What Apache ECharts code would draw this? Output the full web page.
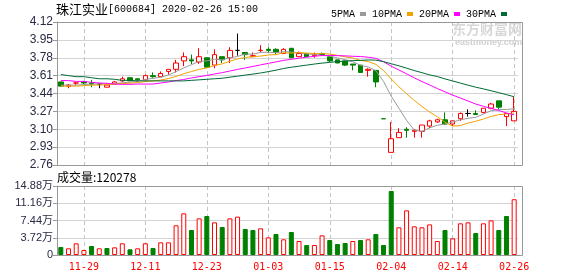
<!DOCTYPE html>
<html>
<head>
<meta charset="utf-8">
<script src="https://cdn.jsdelivr.net/npm/echarts@6/dist/echarts.min.js"></script>
<style>
  html, body { margin: 0; padding: 0; background: #fff; }
  #main { width: 578px; height: 276px; }
</style>
</head>
<body>
<div id="main"></div>
<script>
// 珠江实业 600684, daily K line 2019-11-26 .. 2020-02-26
var dates = ['11-26', '11-27', '11-28', '11-29', '12-02', '12-03', '12-04', '12-05', '12-06', '12-09',
  '12-10', '12-11', '12-12', '12-13', '12-16', '12-17', '12-18', '12-19', '12-20', '12-23',
  '12-24', '12-25', '12-26', '12-27', '12-30', '12-31', '01-02', '01-03', '01-06', '01-07',
  '01-08', '01-09', '01-10', '01-13', '01-14', '01-15', '01-16', '01-17', '01-20', '01-21',
  '01-22', '01-23', '02-03', '02-04', '02-05', '02-06', '02-07', '02-10', '02-11', '02-12',
  '02-13', '02-14', '02-17', '02-18', '02-19', '02-20', '02-21', '02-24', '02-25', '02-26']

var openPrices = [3.55, 3.51, 3.54, 3.55, 3.54, 3.53, 3.50, 3.53, 3.56, 3.59,
  3.58, 3.57, 3.61, 3.60, 3.65, 3.67, 3.75, 3.76, 3.74, 3.78,
  3.71, 3.79, 3.78, 3.85, 3.83, 3.79, 3.85, 3.86, 3.86, 3.82,
  3.87, 3.79, 3.82, 3.80, 3.82, 3.79, 3.76, 3.75, 3.72, 3.71,
  3.66, 3.66, 3.20, 2.88, 3.02, 3.10, 3.08, 3.08, 3.13, 3.17,
  3.19, 3.15, 3.20, 3.25, 3.25, 3.26, 3.30, 3.37, 3.22, 3.18]
var closePrices = [3.51, 3.52, 3.54, 3.54, 3.53, 3.53, 3.52, 3.55, 3.58, 3.56,
  3.57, 3.61, 3.60, 3.63, 3.67, 3.73, 3.79, 3.75, 3.79, 3.69,
  3.81, 3.76, 3.85, 3.85, 3.81, 3.80, 3.85, 3.85, 3.83, 3.86,
  3.78, 3.82, 3.79, 3.81, 3.81, 3.75, 3.73, 3.71, 3.71, 3.64,
  3.67, 3.55, 3.20, 3.01, 3.07, 3.09, 3.09, 3.14, 3.18, 3.19,
  3.15, 3.18, 3.25, 3.25, 3.24, 3.30, 3.34, 3.31, 3.25, 3.27]
var lowPrices = [3.51, 3.49, 3.52, 3.53, 3.50, 3.49, 3.50, 3.53, 3.55, 3.56,
  3.55, 3.57, 3.59, 3.60, 3.62, 3.64, 3.70, 3.72, 3.72, 3.69,
  3.68, 3.73, 3.73, 3.80, 3.76, 3.79, 3.83, 3.83, 3.81, 3.82,
  3.78, 3.79, 3.79, 3.78, 3.80, 3.74, 3.73, 3.70, 3.66, 3.64,
  3.60, 3.50, 3.20, 2.88, 3.02, 3.02, 3.02, 3.02, 3.11, 3.16,
  3.14, 3.13, 3.18, 3.22, 3.24, 3.25, 3.29, 3.29, 3.13, 3.18]
var highPrices = [3.55, 3.53, 3.55, 3.56, 3.57, 3.53, 3.53, 3.56, 3.60, 3.59,
  3.58, 3.62, 3.64, 3.65, 3.67, 3.76, 3.83, 3.81, 3.87, 3.78,
  3.86, 3.79, 3.88, 4.01, 3.83, 3.83, 3.90, 3.88, 3.87, 3.87,
  3.87, 3.84, 3.82, 3.83, 3.83, 3.79, 3.76, 3.75, 3.72, 3.71,
  3.68, 3.66, 3.20, 3.17, 3.11, 3.12, 3.10, 3.14, 3.19, 3.20,
  3.26, 3.18, 3.26, 3.29, 3.28, 3.30, 3.35, 3.37, 3.25, 3.41]

// volume in lots (手)
var volumes = [17300, 14400, 25200, 10800, 19400, 14400, 15100, 16500, 25200, 12200,
  14400, 25200, 15100, 27300, 27300, 64000, 89800, 53900, 79000, 84100,
  70400, 60400, 79000, 82700, 56100, 53900, 57500, 38100, 45300, 33800,
  49600, 30200, 21600, 21600, 42400, 32300, 23700, 25900, 30200, 32300,
  33800, 45300, 21600, 138000, 59700, 96300, 61800, 59700, 66000, 30200,
  53900, 35900, 68300, 70400, 47400, 68300, 74700, 53900, 84100, 120278]

var ma5 = [3.52, 3.52, 3.52, 3.525, 3.528, 3.532, 3.532, 3.534, 3.542, 3.548,
  3.556, 3.574, 3.584, 3.594, 3.616, 3.648, 3.684, 3.714, 3.746, 3.75,
  3.766, 3.76, 3.78, 3.792, 3.816, 3.814, 3.832, 3.832, 3.828, 3.838,
  3.834, 3.828, 3.816, 3.812, 3.802, 3.796, 3.778, 3.762, 3.742, 3.708,
  3.692, 3.656, 3.554, 3.414, 3.30, 3.184, 3.092, 3.08, 3.114, 3.138,
  3.15, 3.168, 3.19, 3.204, 3.214, 3.244, 3.276, 3.288, 3.288, 3.294]
var ma10 = [3.51, 3.51, 3.51, 3.515, 3.52, 3.52, 3.525, 3.53, 3.535, 3.538,
  3.544, 3.553, 3.559, 3.568, 3.582, 3.602, 3.629, 3.649, 3.67, 3.683,
  3.707, 3.722, 3.747, 3.769, 3.783, 3.79, 3.796, 3.806, 3.81, 3.827,
  3.824, 3.83, 3.824, 3.82, 3.82, 3.815, 3.803, 3.789, 3.777, 3.755,
  3.744, 3.717, 3.658, 3.578, 3.504, 3.438, 3.374, 3.317, 3.264, 3.219,
  3.167, 3.13, 3.135, 3.159, 3.176, 3.197, 3.222, 3.239, 3.246, 3.254]
var ma20 = [3.563, 3.563, 3.555, 3.555, 3.546, 3.54, 3.537, 3.53, 3.527, 3.527,
  3.53, 3.53, 3.53, 3.54, 3.55, 3.563, 3.573, 3.588, 3.60, 3.611,
  3.626, 3.638, 3.654, 3.669, 3.683, 3.697, 3.712, 3.727, 3.74, 3.755,
  3.765, 3.776, 3.785, 3.794, 3.801, 3.802, 3.80, 3.798, 3.794, 3.792,
  3.785, 3.774, 3.742, 3.70, 3.663, 3.627, 3.589, 3.553, 3.521, 3.487,
  3.456, 3.424, 3.397, 3.369, 3.34, 3.318, 3.298, 3.278, 3.255, 3.237]
var ma30 = [3.62, 3.61, 3.60, 3.60, 3.59, 3.58, 3.58, 3.575, 3.565, 3.565,
  3.56, 3.56, 3.56, 3.56, 3.56, 3.56, 3.56, 3.565, 3.57, 3.575,
  3.58, 3.585, 3.595, 3.605, 3.615, 3.625, 3.635, 3.648, 3.662, 3.678,
  3.69, 3.70, 3.71, 3.72, 3.729, 3.736, 3.743, 3.748, 3.753, 3.755,
  3.759, 3.757, 3.743, 3.723, 3.703, 3.681, 3.658, 3.638, 3.617, 3.601,
  3.579, 3.559, 3.539, 3.519, 3.50, 3.484, 3.466, 3.448, 3.429, 3.409]

var priceTicks = [2.76, 2.93, 3.10, 3.27, 3.44, 3.61, 3.78, 3.95, 4.12]
var volumeTicks = [0, 37200, 74400, 111600, 148800]

var RED = '#ff0000'
var GREEN = '#008000'
var BLACK = '#000000'

// every 8th trading day gets a date label and a dashed line
function showDate(index) {
  return index % 8 === 3
}

var candleData = dates.map(function (d, i) {
  var item = { value: [openPrices[i], closePrices[i], lowPrices[i], highPrices[i]] }
  // flat day, same as previous close: drawn black
  if (i > 0 && openPrices[i] === closePrices[i] && closePrices[i] === closePrices[i - 1]) {
    item.itemStyle = { color: BLACK, color0: BLACK, borderColor: BLACK, borderColor0: BLACK }
  }
  return item
})

// volume colour follows close vs previous close
var volumeData = volumes.map(function (v, i) {
  var down = i === 0 ? closePrices[0] < openPrices[0] : closePrices[i] < closePrices[i - 1]
  return {
    value: v,
    itemStyle: down ? { color: GREEN, borderColor: GREEN } : { color: '#fff', borderColor: RED }
  }
})

var myChart = echarts.init(document.getElementById('main'))

var axisText = '#2a2a44'
var gridColor = '#d4d4d4'
var dashColor = '#c4c4c4'
var plotLeft = 57
var plotRight = 522

var option = {
  animation: false,
  backgroundColor: '#fff',
  legend: {
    data: ['5PMA', '10PMA', '20PMA', '30PMA'],
    right: 66,
    top: 4,
    align: 'right',
    icon: 'rect',
    itemWidth: 6,
    itemHeight: 4,
    itemGap: 6,
    textStyle: { fontFamily: 'Liberation Mono', fontSize: 10, color: '#000' }
  },
  grid: [
    { left: plotLeft, top: 22, width: 461, height: 143 },
    { left: plotLeft, top: 186, width: 461, height: 69 }
  ],
  xAxis: [
    {
      type: 'category',
      gridIndex: 0,
      data: dates,
      boundaryGap: true,
      axisLine: { show: false },
      axisTick: { show: false },
      axisLabel: { show: false },
      splitLine: { show: true, interval: showDate, alignWithLabel: true, lineStyle: { color: dashColor, type: [4, 3] } }
    },
    {
      type: 'category',
      gridIndex: 1,
      data: dates,
      boundaryGap: true,
      axisLine: { show: false },
      axisTick: { show: false },
      axisLabel: {
        show: true,
        interval: showDate,
        color: RED,
        fontFamily: 'DejaVu Sans Mono',
        fontSize: 10,
        margin: 7
      },
      splitLine: { show: true, interval: showDate, alignWithLabel: true, lineStyle: { color: dashColor, type: [4, 3] } }
    }
  ],
  yAxis: [
    {
      type: 'value',
      gridIndex: 0,
      min: priceTicks[0],
      max: priceTicks[priceTicks.length - 1],
      interval: (priceTicks[priceTicks.length - 1] - priceTicks[0]) / (priceTicks.length - 1),
      axisLine: { show: true, lineStyle: { color: '#999' } },
      axisTick: { show: true, length: 4, lineStyle: { color: '#999' } },
      axisLabel: {
        color: axisText,
        fontFamily: 'Liberation Sans',
        fontSize: 12,
        margin: 4,
        formatter: function (v) { return v.toFixed(2) }
      },
      splitLine: { lineStyle: { color: gridColor } }
    },
    {
      type: 'value',
      gridIndex: 1,
      min: volumeTicks[0],
      max: volumeTicks[volumeTicks.length - 1],
      interval: volumeTicks[1] - volumeTicks[0],
      axisLine: { show: true, lineStyle: { color: '#999' } },
      axisTick: { show: true, length: 4, lineStyle: { color: '#999' } },
      axisLabel: {
        color: axisText,
        fontFamily: 'Liberation Sans, Noto Sans CJK SC',
        fontSize: 11,
        margin: 4,
        formatter: function (v) { return v === 0 ? '0' : (v / 10000).toFixed(2) + '万' }
      },
      splitLine: { lineStyle: { color: gridColor } }
    }
  ],
  series: [
    { name: '5PMA', type: 'line', data: ma5, symbol: 'none', color: '#9a9a9a', lineStyle: { width: 1 } },
    { name: '10PMA', type: 'line', data: ma10, symbol: 'none', color: '#f2a200', lineStyle: { width: 1 } },
    { name: '20PMA', type: 'line', data: ma20, symbol: 'none', color: '#ff00ff', lineStyle: { width: 1 } },
    { name: '30PMA', type: 'line', data: ma30, symbol: 'none', color: '#006a36', lineStyle: { width: 1 } },
    {
      name: 'K',
      type: 'candlestick',
      data: candleData,
      barWidth: 5,
      itemStyle: { color: '#fff', color0: GREEN, borderColor: RED, borderColor0: GREEN, borderWidth: 1 }
    },
    {
      name: '成交量',
      type: 'bar',
      xAxisIndex: 1,
      yAxisIndex: 1,
      data: volumeData,
      barWidth: 5,
      itemStyle: { borderWidth: 1 }
    }
  ],
  graphic: [
    {
      type: 'text', left: 56, top: 3,
      style: {
        text: '{a|珠江实业}{b|[600684] 2020-02-26 15:00}',
        rich: {
          a: { fontFamily: 'Noto Sans CJK SC', fontSize: 13, fill: '#000' },
          b: { fontFamily: 'Liberation Mono', fontSize: 10, fill: '#000' }
        }
      }
    },
    {
      type: 'text', left: 57, top: 171,
      style: { text: '成交量:' + volumes[volumes.length - 1], font: '12px "Noto Sans CJK SC"', fill: '#000' }
    },
    {
      type: 'text', left: 452, top: 22, z: -1,
      style: { text: '东方财富网', font: 'bold 14px "Noto Sans CJK SC"', fill: '#d8d8d8' }
    },
    {
      type: 'text', left: 455, top: 38, z: -1,
      style: { text: 'eastmoney.com', font: 'bold 9px "Liberation Sans"', fill: '#d0d0d0' }
    },
    {
      type: 'rect', z: 10,
      shape: { x: plotLeft + 0.5, y: 22.5, width: plotRight - plotLeft, height: 143 },
      style: { fill: 'none', stroke: '#999', lineWidth: 1 }
    },
    {
      type: 'rect', z: 10,
      shape: { x: plotLeft + 0.5, y: 186.5, width: plotRight - plotLeft, height: 69 },
      style: { fill: 'none', stroke: '#999', lineWidth: 1 }
    }
  ]
}

myChart.setOption(option)
</script>
</body>
</html>
